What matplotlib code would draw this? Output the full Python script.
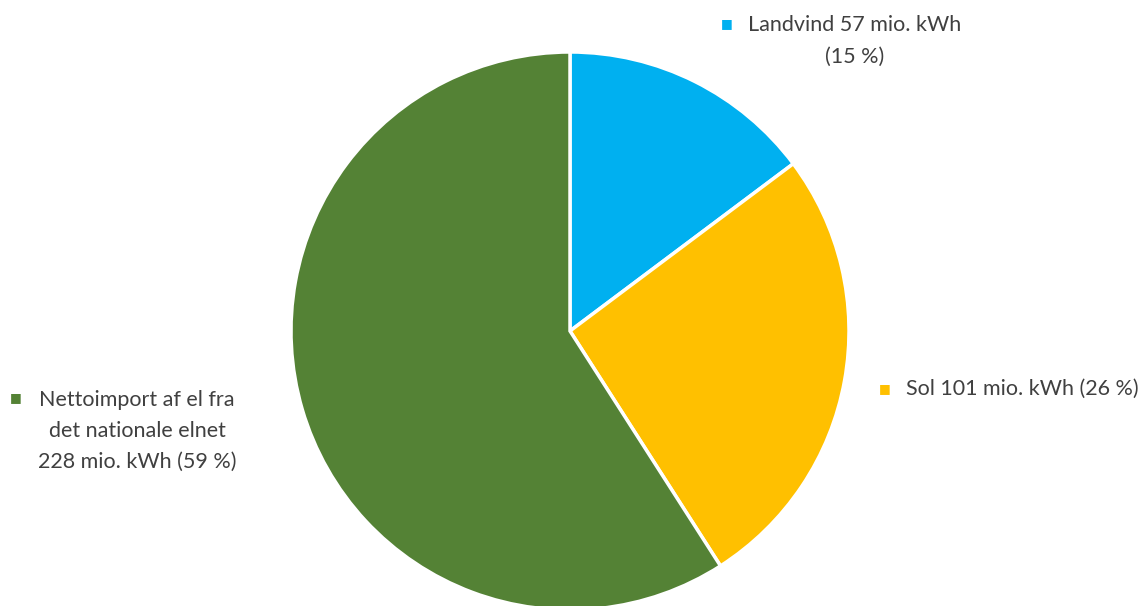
import matplotlib
matplotlib.use("Agg")
import matplotlib.pyplot as plt

labels = ["Landvind 57 mio. kWh\n(15 %)", "Sol 101 mio. kWh (26 %)",
          "Nettoimport af el fra\ndet nationale elnet\n228 mio. kWh (59 %)"]
values = [57, 101, 228]
colors = ["#00B0F0", "#FFC000", "#548235"]

W, H = 1145, 606
fig = plt.figure(figsize=(W / 100, H / 100), dpi=100)
cx, cy, r = 570, 331, 279
ax = fig.add_axes([(cx - r) / W, (H - cy - r) / H, 2 * r / W, 2 * r / H])
wedges, _ = ax.pie(values, colors=colors, startangle=90, counterclock=False,
                   radius=1, wedgeprops=dict(edgecolor="white", linewidth=2.5))
for w in wedges:
    w.set_clip_on(False)
ax.set_xlim(-1, 1)
ax.set_ylim(-1, 1)
ax.set_aspect("equal")
ax.axis("off")

tc = "#404040"
font = dict(family=["Lato", "DejaVu Sans"], fontsize=15.5, color=tc)

def px(x, y):
    return x / W, 1 - y / H

# label blocks: (text center x, center y, marker x, marker y)
places = [(855, 41, 727, 24), (1022, 389, 885, 389), (137, 431, 16, 398)]
for lab, col, (tx, ty, mx, my) in zip(labels, colors, places):
    fig.text(*px(tx, ty), lab, ha="center", va="center", multialignment="center",
             linespacing=1.7, **font)
    fig.text(*px(mx, my), "\u25A0", ha="center", va="center", color=col,
             fontsize=9, family="DejaVu Sans")

fig.savefig("out.png", dpi=100)
